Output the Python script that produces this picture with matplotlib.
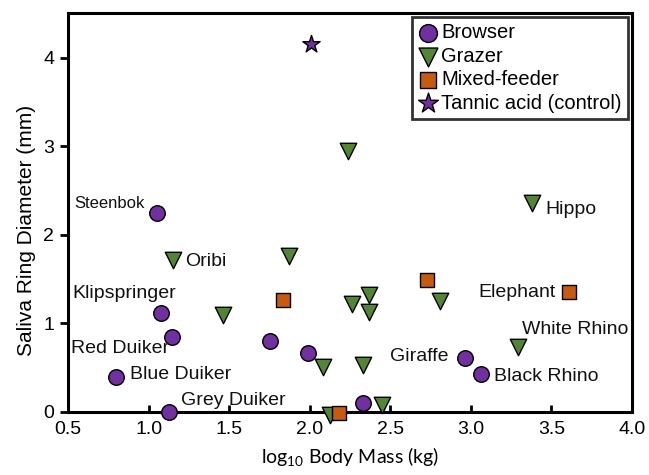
import numpy as np
import matplotlib.pyplot as plt

# --- data ---
browser_x = [1.054, 1.075, 1.147, 0.796, 1.129, 1.754, 1.992, 2.964, 3.064, 2.333]
browser_y = [2.247, 1.120, 0.845, 0.394, 0.000, 0.797, 0.658, 0.608, 0.425, 0.094]

grazer_x = [1.150, 1.870, 1.460, 2.085, 2.126, 2.370, 2.265, 2.370, 2.809, 2.333, 2.447, 3.295, 3.378, 2.236]
grazer_y = [1.717, 1.754, 1.090, 0.507, -0.037, 1.323, 1.213, 1.123, 1.251, 0.526, 0.075, 0.725, 2.355, 2.949]

mixed_x = [1.833, 2.730, 3.612, 2.184]
mixed_y = [1.266, 1.484, 1.349, -0.011]

control_x = [2.006]
control_y = [4.158]

# label, group, index into that group
label_names = ['Steenbok', 'Oribi', 'Klipspringer', 'Red Duiker', 'Blue Duiker', 'Grey Duiker',
               'Hippo', 'Elephant', 'White Rhino', 'Giraffe', 'Black Rhino']
label_group = ['b', 'g', 'b', 'b', 'b', 'b', 'g', 'm', 'g', 'b', 'b']
label_index = [0, 0, 1, 2, 3, 4, 12, 2, 11, 7, 8]

# text placement (pixel offsets from the marker, alignment, size)
label_opts = [
    (-13, 9, 'right', 12),
    (12, -2, 'left', 14),
    (-36, 19, 'center', 14),
    (-52, -12, 'center', 14),
    (14, 2, 'left', 14),
    (12, 11, 'left', 14),
    (14, -6, 'left', 14),
    (-14, 0, 'right', 14),
    (57, 18, 'center', 14),
    (-17, 1, 'right', 14),
    (13, -2, 'left', 14),
]

purple = '#7030A0'
green = '#528536'
orange = '#C55A11'

plt.rcParams['font.family'] = ['Liberation Sans', 'DejaVu Sans']
plt.rcParams['mathtext.default'] = 'regular'

fig = plt.figure(figsize=(6.49, 4.75), dpi=100)
ax = fig.add_axes([0.1048, 0.1333, 0.869, 0.8387])

common = dict(edgecolor='black', linewidths=1.0, clip_on=False, zorder=3)
ax.scatter(browser_x, browser_y, s=125, marker='o', color=purple, label='Browser', **common)
ax.scatter(grazer_x, grazer_y, s=140, marker='v', color=green, label='Grazer', **common)
ax.scatter(mixed_x, mixed_y, s=110, marker='s', color=orange, label='Mixed-feeder', **common)
ax.scatter(control_x, control_y, s=170, marker='*', color=purple, label='Tannic acid (control)', **common)

groups = {'b': (browser_x, browser_y), 'g': (grazer_x, grazer_y), 'm': (mixed_x, mixed_y)}
for name, grp, idx, (dx, dy, ha, fs) in zip(label_names, label_group, label_index, label_opts):
    xs, ys = groups[grp]
    ax.annotate(name, (xs[idx], ys[idx]), xytext=(dx, dy), textcoords='offset pixels',
                ha=ha, va='center', fontsize=fs, color='#111111')

ax.set_xlim(0.5, 4.0)
ax.set_ylim(0, 4.5)
ax.set_xticks(np.arange(0.5, 4.01, 0.5))
ax.set_xticklabels(['%.1f' % v for v in np.arange(0.5, 4.01, 0.5)])
ax.set_yticks([0, 1, 2, 3, 4])

for s in ax.spines.values():
    s.set_linewidth(2.2)
ax.tick_params(axis='x', direction='in', length=5, width=2, labelsize=14, pad=7)
ax.tick_params(axis='y', direction='out', length=6, width=2, labelsize=14, pad=4)

ax.set_ylabel('Saliva Ring Diameter (mm)', fontsize=15)
ax.yaxis.set_label_coords(-0.057, 0.456)
ax.set_xlabel(r'log$_{10}$ Body Mass (kg)', fontsize=14, labelpad=5, family='Lato')

leg = ax.legend(loc='upper right', fontsize=14.5, frameon=True, fancybox=False,
                borderaxespad=0.2, handletextpad=0.15, handlelength=1.0,
                borderpad=0.3, labelspacing=0.22, markerscale=1.15)
leg.get_frame().set_edgecolor('black')
leg.get_frame().set_linewidth(2)

fig.savefig('out.png', dpi=100)
